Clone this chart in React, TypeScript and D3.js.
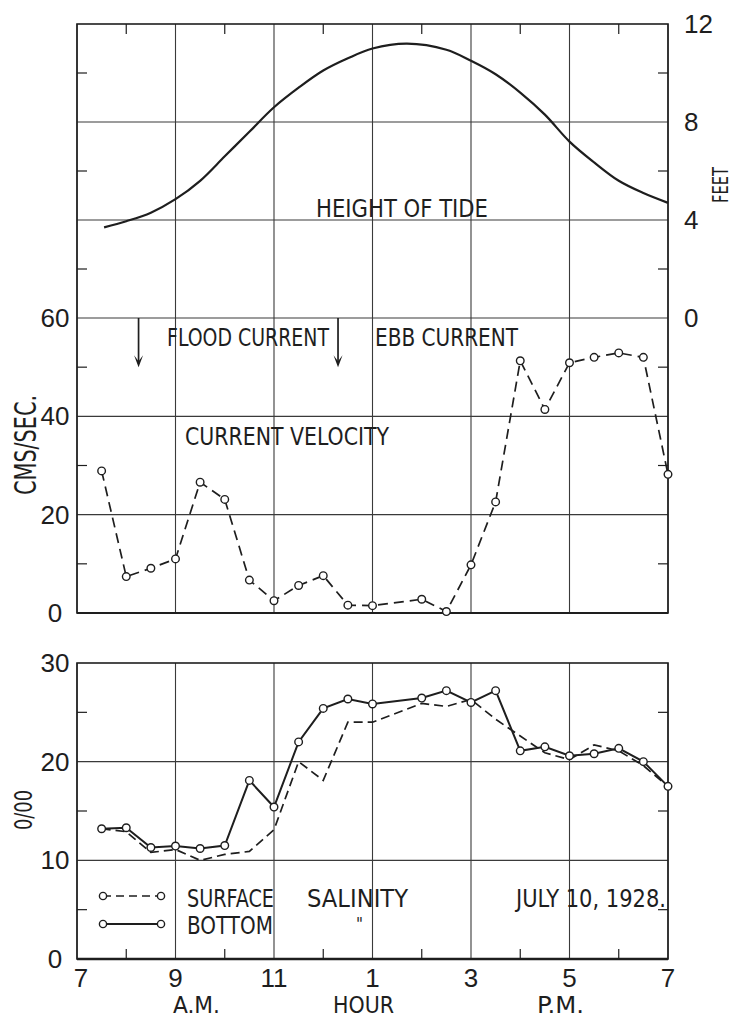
import { useEffect, useRef } from "react"
import * as d3 from "d3"

// hours are on a 24h clock, 7 = 7 A.M., 19 = 7 P.M.
const TIDE_HOURS = [7.55, 8, 8.5, 9, 9.5, 10, 10.5, 11, 11.5, 12, 12.5, 13, 13.7, 14.5, 15, 15.5, 16, 16.5, 17, 17.5, 18, 18.5, 19]
const TIDE_FEET  = [3.7, 3.95, 4.3, 4.85, 5.6, 6.6, 7.6, 8.6, 9.4, 10.1, 10.6, 11.0, 11.2, 10.95, 10.5, 9.95, 9.2, 8.3, 7.2, 6.35, 5.6, 5.1, 4.7]

const VEL_HOURS = [7.5, 8, 8.5, 9, 9.5, 10, 10.5, 11, 11.5, 12, 12.5, 13, 14, 14.5, 15, 15.5, 16, 16.5, 17, 17.5, 18, 18.5, 19]
const VEL_CMS   = [28.9, 7.4, 9.1, 11.0, 26.6, 23.1, 6.7, 2.5, 5.6, 7.6, 1.6, 1.5, 2.8, 0.3, 9.8, 22.6, 51.3, 41.4, 50.9, 52.0, 52.9, 52.0, 28.2]

const SAL_HOURS   = [7.5, 8, 8.5, 9, 9.5, 10, 10.5, 11, 11.5, 12, 12.5, 13, 14, 14.5, 15, 15.5, 16, 16.5, 17, 17.5, 18, 18.5, 19]
const SAL_BOTTOM  = [13.2, 13.3, 11.3, 11.45, 11.2, 11.5, 18.1, 15.4, 22.0, 25.4, 26.35, 25.85, 26.45, 27.2, 26.0, 27.2, 21.1, 21.5, 20.6, 20.8, 21.35, 20.0, 17.5]
const SAL_SURFACE = [13.2, 12.9, 10.8, 11.1, 10.0, 10.6, 10.9, 13.1, 20.0, 18.1, 24.0, 24.0, 25.9, 25.6, 26.3, 24.3, 22.6, 20.9, 20.2, 21.7, 21.1, 19.6, 17.5]

const ARROW_HOURS = [8.25, 12.3]

const GRID_HOURS  = [7, 9, 11, 13, 15, 17, 19]
const HOUR_LABELS = ["7", "9", "11", "1", "3", "5", "7"]
const MINOR_HOURS = [8, 10, 12, 14, 16, 18]

const FEET_TICKS  = [12, 8, 4, 0]
const VEL_TICKS   = [60, 40, 20, 0]
const SAL_TICKS   = [30, 20, 10, 0]

const W = 735
const H = 1017
const INK = "#1e1e1e"
const GRID = "#3a3a3a"
const NUM_FONT = "'Liberation Sans', Arial, sans-serif"
const TXT_FONT = "'Liberation Sans Narrow', 'DejaVu Sans Condensed', 'Liberation Sans', sans-serif"

export default function App() {
  const svgRef = useRef<SVGSVGElement>(null)

  useEffect(() => {
    if (!svgRef.current) return
    const svg = d3.select(svgRef.current)
    svg.selectAll("*").remove()

    const x    = d3.scaleLinear().domain([7, 19]).range([77, 668])
    const yFt  = d3.scaleLinear().domain([0, 12]).range([318, 24])
    const yVel = d3.scaleLinear().domain([0, 60]).range([613, 318])
    const ySal = d3.scaleLinear().domain([0, 30]).range([959, 663])

    const x0 = x(7), x1 = x(19)
    const upTop = yFt(12), upBot = yVel(0)
    const loTop = ySal(30), loBot = ySal(0)

    const g = svg.append("g")

    // vertical grid
    GRID_HOURS.forEach((h) => {
      g.append("line").attr("x1", x(h)).attr("x2", x(h)).attr("y1", upTop).attr("y2", upBot)
        .attr("stroke", GRID).attr("stroke-width", 1.1)
      g.append("line").attr("x1", x(h)).attr("x2", x(h)).attr("y1", loTop).attr("y2", loBot)
        .attr("stroke", GRID).attr("stroke-width", 1.1)
    })

    // horizontal grid
    const hLine = (y: number) =>
      g.append("line").attr("x1", x0).attr("x2", x1).attr("y1", y).attr("y2", y)
        .attr("stroke", GRID).attr("stroke-width", 1.1)
    ;[8, 4, 0].forEach((f) => hLine(yFt(f)))
    ;[40, 20].forEach((v) => hLine(yVel(v)))
    ;[20, 10].forEach((s) => hLine(ySal(s)))

    // frames
    ;[[upTop, upBot], [loTop, loBot]].forEach(([t, b]) => {
      g.append("rect").attr("x", x0).attr("y", t).attr("width", x1 - x0).attr("height", b - t)
        .attr("fill", "none").attr("stroke", INK).attr("stroke-width", 1.6)
    })
    g.append("line").attr("x1", x0).attr("x2", x1).attr("y1", loBot).attr("y2", loBot)
      .attr("stroke", INK).attr("stroke-width", 2.4)
    g.append("line").attr("x1", x0).attr("x2", x1).attr("y1", upBot).attr("y2", upBot)
      .attr("stroke", INK).attr("stroke-width", 2)

    // minor ticks
    const TICK = 10
    const sideTicks = (ys: number[]) => ys.forEach((y) => {
      g.append("line").attr("x1", x0).attr("x2", x0 + TICK).attr("y1", y).attr("y2", y).attr("stroke", INK).attr("stroke-width", 1.2)
      g.append("line").attr("x1", x1 - TICK).attr("x2", x1).attr("y1", y).attr("y2", y).attr("stroke", INK).attr("stroke-width", 1.2)
    })
    sideTicks([10, 6, 2].map((f) => yFt(f)))
    sideTicks([50, 30, 10].map((v) => yVel(v)))
    sideTicks([25, 15, 5].map((s) => ySal(s)))
    MINOR_HOURS.forEach((h) => {
      g.append("line").attr("x1", x(h)).attr("x2", x(h)).attr("y1", upTop).attr("y2", upTop + TICK).attr("stroke", INK).attr("stroke-width", 1.2)
      g.append("line").attr("x1", x(h)).attr("x2", x(h)).attr("y1", loBot - TICK).attr("y2", loBot).attr("stroke", INK).attr("stroke-width", 1.2)
    })

    // tick labels
    const num = (tx: number, ty: number, s: string, anchor = "middle") =>
      g.append("text").attr("x", tx).attr("y", ty).attr("text-anchor", anchor)
        .attr("dominant-baseline", "central").attr("font-family", NUM_FONT)
        .attr("font-size", 26).attr("fill", INK).text(s)
    VEL_TICKS.forEach((v) => num(55, yVel(v), String(v)))
    SAL_TICKS.forEach((s) => num(55, ySal(s), String(s)))
    FEET_TICKS.forEach((f) => num(684, yFt(f), String(f), "start"))
    GRID_HOURS.forEach((h, i) => num(x(h) + (i === 0 ? 4 : 0), 978, HOUR_LABELS[i]))

    // tide
    const tide = d3.line<number>().x((_, i) => x(TIDE_HOURS[i])).y((f) => yFt(f)).curve(d3.curveCatmullRom)
    g.append("path").attr("d", tide(TIDE_FEET)).attr("fill", "none").attr("stroke", INK).attr("stroke-width", 2.2)

    // current velocity
    const vel = d3.line<number>().x((_, i) => x(VEL_HOURS[i])).y((v) => yVel(v))
    g.append("path").attr("d", vel(VEL_CMS)).attr("fill", "none").attr("stroke", INK)
      .attr("stroke-width", 1.7).attr("stroke-dasharray", "10,6")
    VEL_CMS.forEach((v, i) => {
      g.append("circle").attr("cx", x(VEL_HOURS[i])).attr("cy", yVel(v)).attr("r", 3.8)
        .attr("fill", "white").attr("stroke", INK).attr("stroke-width", 1.4)
    })

    // salinity
    const sal = d3.line<number>().x((_, i) => x(SAL_HOURS[i])).y((s) => ySal(s))
    g.append("path").attr("d", sal(SAL_SURFACE)).attr("fill", "none").attr("stroke", INK)
      .attr("stroke-width", 1.7).attr("stroke-dasharray", "9,5")
    g.append("path").attr("d", sal(SAL_BOTTOM)).attr("fill", "none").attr("stroke", INK)
      .attr("stroke-width", 2)
    SAL_BOTTOM.forEach((s, i) => {
      g.append("circle").attr("cx", x(SAL_HOURS[i])).attr("cy", ySal(s)).attr("r", 3.8)
        .attr("fill", "white").attr("stroke", INK).attr("stroke-width", 1.4)
    })

    // flood / ebb arrows
    ARROW_HOURS.forEach((h) => {
      const ax = x(h), top = yVel(60), tip = yVel(50)
      g.append("line").attr("x1", ax).attr("x2", ax).attr("y1", top).attr("y2", tip - 4)
        .attr("stroke", INK).attr("stroke-width", 1.7)
      g.append("path").attr("d", `M${ax - 4.5},${tip - 12} L${ax},${tip} L${ax + 4.5},${tip - 12} L${ax},${tip - 6} Z`)
        .attr("fill", INK)
    })

    // annotations
    const txt = (tx: number, ty: number, s: string, len: number, size = 25) =>
      g.append("text").attr("x", tx).attr("y", ty).attr("font-family", TXT_FONT)
        .attr("font-size", size).attr("fill", INK)
        .attr("textLength", len).attr("lengthAdjust", "spacingAndGlyphs").text(s)
    txt(316, 217, "HEIGHT OF TIDE", 172)
    txt(167, 346, "FLOOD CURRENT", 162)
    txt(375, 346, "EBB CURRENT", 143)
    txt(185, 445, "CURRENT VELOCITY", 204)
    txt(187, 907, "SURFACE", 87)
    txt(307, 907, "SALINITY", 101)
    txt(187, 934, "BOTTOM", 86)
    txt(516, 907, "JULY 10, 1928.", 150)
    txt(356, 930, "\"", 7, 17)
    txt(173, 1013, "A.M.", 47, 23)
    txt(333, 1013, "HOUR", 61, 23)
    txt(537, 1013, "P.M.", 47, 23)

    // rotated axis titles
    const vtxt = (cx: number, cy: number, s: string, len: number, size: number) =>
      g.append("text").attr("transform", `translate(${cx},${cy}) rotate(-90)`)
        .attr("text-anchor", "middle").attr("dominant-baseline", "central")
        .attr("font-family", TXT_FONT).attr("font-size", size).attr("fill", INK)
        .attr("textLength", len).attr("lengthAdjust", "spacingAndGlyphs").text(s)
    vtxt(25, 445, "CMS/SEC.", 100, 30)
    vtxt(24, 810, "0/00", 40, 24)
    vtxt(721, 185, "FEET", 36, 21)

    // legend
    const LY1 = 896, LY2 = 924
    g.append("line").attr("x1", 103).attr("x2", 161).attr("y1", LY1).attr("y2", LY1)
      .attr("stroke", INK).attr("stroke-width", 1.6).attr("stroke-dasharray", "8,5")
    g.append("line").attr("x1", 103).attr("x2", 161).attr("y1", LY2).attr("y2", LY2)
      .attr("stroke", INK).attr("stroke-width", 1.8)
    ;[LY1, LY2].forEach((ly) => [103, 161].forEach((lx) => {
      g.append("circle").attr("cx", lx).attr("cy", ly).attr("r", 3.6)
        .attr("fill", "white").attr("stroke", INK).attr("stroke-width", 1.4)
    }))
  }, [])

  return (
    <div style={{ position: "absolute", left: 0, top: 0, background: "white" }}>
      <svg ref={svgRef} width={W} height={H} style={{ display: "block" }} />
    </div>
  )
}
